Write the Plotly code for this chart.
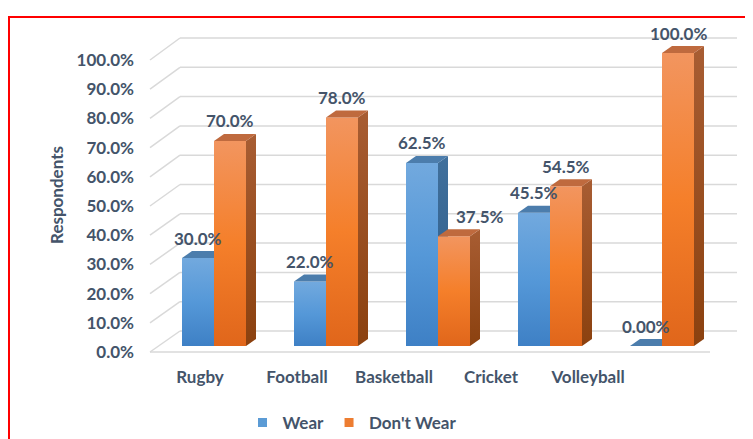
import plotly.graph_objects as go

# ---------------- data ----------------
categories = ["Rugby", "Football", "Basketball", "Cricket", "Volleyball"]
series_names = ["Wear", "Don't Wear"]
wear = [30.0, 22.0, 62.5, 45.5, 0.0]
dont_wear = [70.0, 78.0, 37.5, 54.5, 100.0]
wear_labels = ["30.0%", "22.0%", "62.5%", "45.5%", "0.00%"]
dont_wear_labels = ["70.0%", "78.0%", "37.5%", "54.5%", "100.0%"]
tick_values = [0, 10, 20, 30, 40, 50, 60, 70, 80, 90, 100]
tick_labels = ["0.0%", "10.0%", "20.0%", "30.0%", "40.0%", "50.0%",
               "60.0%", "70.0%", "80.0%", "90.0%", "100.0%"]
axis_title = "Respondents"

# ---------------- layout geometry (page pixels) ----------------
W, H = 753, 439
PAGE_OFFSET = 8                         # default body margin of the page
PLOT_L, PLOT_R, PLOT_T, PLOT_B = 140, 745, 25, 365
ML = PLOT_L - PAGE_OFFSET
MT = PLOT_T - PAGE_OFFSET
MR = W - (PLOT_R - PAGE_OFFSET)
MB = H - (PLOT_B - PAGE_OFFSET)

CAT0_PX, CAT_STEP_PX = 214, 112          # bar plane: category centres
ZERO_PX, PCT_PX = 346, 2.93              # bar plane: value scale
BAR_W_PX = 32
DEPTH_DX_PX, DEPTH_DY_PX = 10, 7         # 3-D depth of each bar
LABEL_DODGE_PX = 26                      # label moved aside when hidden by a taller neighbour

FRONT_ZERO_PX, FRONT_PCT_PX = 352, 2.92  # front edge of the floor / tick labels
FRONT_LEFT_PX, FRONT_RIGHT_PX = 150, 710
BACK_ZERO_PX, BACK_PCT_PX = 331, 2.93    # back wall
BACK_LEFT_PX, BACK_RIGHT_PX = 180, 737

LABEL0_PX, LABEL_STEP_PX = 200, 97       # category label positions
LEGEND_CX, LEGEND_CY = 352, 423

TEXT_COLOR = "#44546A"
GRID_COLOR = "#D9D9D9"
FONT = "Lato"
FS = 17


def to_x(px):
    return (px - CAT0_PX) / CAT_STEP_PX


def to_y(py):
    return (ZERO_PX - py) / PCT_PX


def to_px_x(px):
    return (px - PLOT_L) / (PLOT_R - PLOT_L)


def to_px_y(py):
    return (PLOT_B - py) / (PLOT_B - PLOT_T)


bw = BAR_W_PX / CAT_STEP_PX
ddx = DEPTH_DX_PX / CAT_STEP_PX
ddy = DEPTH_DY_PX / PCT_PX

styles = [
    dict(front=[[0, "#3E80C5"], [0.5, "#5598D8"], [1, "#72A9DE"]],
         side=[[0, "#2B5A88"], [1, "#41709C"]],
         top="#4C7DAC", legend="#5B9BD5"),
    dict(front=[[0, "#E0661B"], [0.5, "#F57F2A"], [1, "#F2955F"]],
         side=[[0, "#8B410F"], [1, "#A85D33"]],
         top="#BF6A3E", legend="#ED7D31"),
]

fig = go.Figure()


def face(xs, ys, colorscale=None, color=None):
    kw = dict(x=xs + [xs[0]], y=ys + [ys[0]], mode="none", fill="toself",
              hoverinfo="skip", showlegend=False, xaxis="x", yaxis="y")
    if colorscale is not None:
        kw["fillgradient"] = dict(type="vertical", colorscale=colorscale)
    else:
        kw["fillcolor"] = color
    return go.Scatter(**kw)


bold = dict(size=FS, color=TEXT_COLOR, family=FONT, weight="bold")

series = [wear, dont_wear]
series_labels = [wear_labels, dont_wear_labels]
annotations = []

for s, (vals, labels) in enumerate(zip(series, series_labels)):
    st = styles[s]
    for i, v in enumerate(vals):
        left = i - bw + s * bw
        right = left + bw
        fig.add_trace(face([left, right, right, left], [0, 0, v, v], colorscale=st["front"]))
        fig.add_trace(face([right, right + ddx, right + ddx, right],
                           [0, ddy, v + ddy, v], colorscale=st["side"]))
        fig.add_trace(face([left, right, right + ddx, left + ddx],
                           [v, v, v + ddy, v + ddy], color=st["top"]))
        # second-series label is pushed right when the bar on its left is much taller
        xshift = LABEL_DODGE_PX if (s == 1 and series[0][i] > v + 10) else 0
        annotations.append(dict(x=(left + right) / 2, y=v, xref="x", yref="y",
                                text=labels[i], showarrow=False, yshift=20, xshift=xshift,
                                font=bold))

# legend entries
for s, name in enumerate(series_names):
    fig.add_trace(go.Scatter(x=[None], y=[None], mode="markers", name=name,
                             marker=dict(symbol="square", size=9, color=styles[s]["legend"]),
                             xaxis="x", yaxis="y"))

# carrier traces for the tick-label axes
fig.add_trace(go.Scatter(x=categories, y=[0] * len(categories), mode="markers",
                         marker=dict(opacity=0), hoverinfo="skip", showlegend=False,
                         xaxis="x2", yaxis="y"))
fig.add_trace(go.Scatter(x=[0, 0], y=[tick_values[0], tick_values[-1]], mode="markers",
                         marker=dict(opacity=0), hoverinfo="skip", showlegend=False,
                         xaxis="x", yaxis="y2"))

# gridlines: back wall + diagonals + floor front edge
shapes = []
line = dict(color=GRID_COLOR, width=1.5)
for t in tick_values:
    fy = FRONT_ZERO_PX - FRONT_PCT_PX * t
    by = BACK_ZERO_PX - BACK_PCT_PX * t
    shapes.append(dict(type="line", xref="x", yref="y", layer="below", line=line,
                       x0=to_x(FRONT_LEFT_PX), y0=to_y(fy), x1=to_x(BACK_LEFT_PX), y1=to_y(by)))
    shapes.append(dict(type="line", xref="x", yref="y", layer="below", line=line,
                       x0=to_x(BACK_LEFT_PX), y0=to_y(by), x1=to_x(BACK_RIGHT_PX), y1=to_y(by)))
shapes.append(dict(type="line", xref="x", yref="y", layer="below", line=line,
                   x0=to_x(FRONT_LEFT_PX), y0=to_y(FRONT_ZERO_PX),
                   x1=to_x(FRONT_RIGHT_PX), y1=to_y(FRONT_ZERO_PX)))
# red frame
shapes.append(dict(type="rect", xref="paper", yref="paper",
                   x0=to_px_x(9), y0=to_px_y(H + 20), x1=to_px_x(W + 20), y1=to_px_y(17),
                   line=dict(color="#FF0000", width=2), fillcolor="rgba(0,0,0,0)"))

front_lo = (FRONT_ZERO_PX - PLOT_B) / FRONT_PCT_PX
front_hi = (FRONT_ZERO_PX - PLOT_T) / FRONT_PCT_PX
lab_lo = (PLOT_L - LABEL0_PX) / LABEL_STEP_PX
lab_hi = (PLOT_R - LABEL0_PX) / LABEL_STEP_PX

fig.update_layout(
    width=W, height=H,
    margin=dict(l=ML, r=MR, t=MT, b=MB, autoexpand=False),
    paper_bgcolor="white", plot_bgcolor="white",
    font=dict(family=FONT, size=FS, color=TEXT_COLOR, weight="bold"),
    xaxis=dict(range=[to_x(PLOT_L), to_x(PLOT_R)], visible=False, fixedrange=True),
    yaxis=dict(range=[to_y(PLOT_B), to_y(PLOT_T)], visible=False, fixedrange=True),
    xaxis2=dict(overlaying="x", side="bottom", anchor="y", type="category",
                categoryorder="array", categoryarray=categories,
                range=[lab_lo, lab_hi], showgrid=False, zeroline=False, showline=False,
                ticks="", tickfont=bold),
    yaxis2=dict(overlaying="y", side="left", anchor="x", range=[front_lo, front_hi],
                tickvals=tick_values, ticktext=tick_labels, showgrid=False, zeroline=False,
                showline=False, ticks="", ticklabelstandoff=5, tickfont=bold,
                title=dict(text=axis_title, standoff=8, font=bold)),
    legend=dict(orientation="h", x=to_px_x(LEGEND_CX), xanchor="center",
                y=to_px_y(LEGEND_CY), yanchor="middle",
                font=bold, bgcolor="rgba(0,0,0,0)"),
    shapes=shapes,
    annotations=annotations,
)

fig.write_html("out.html")
